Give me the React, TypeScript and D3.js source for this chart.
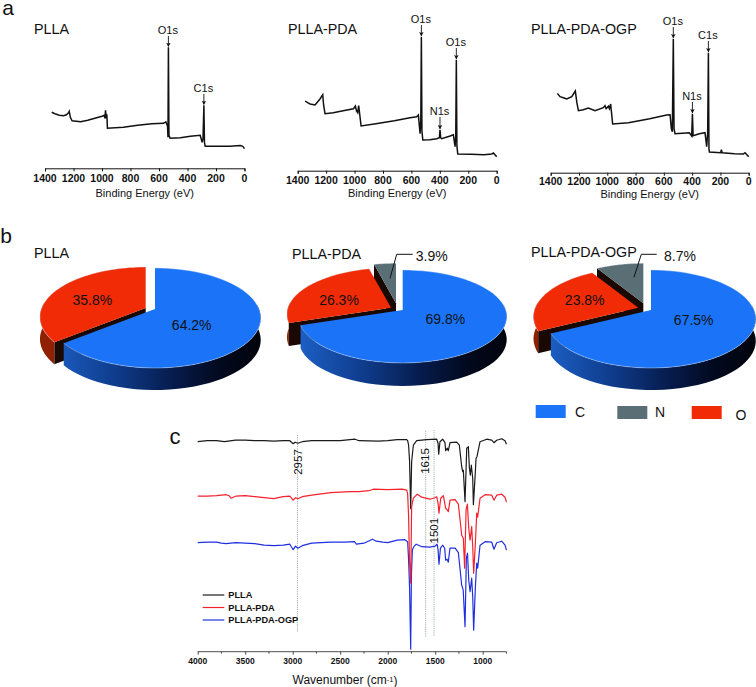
import { useEffect, useRef } from 'react';
import * as d3 from 'd3';

type Pt = [number, number];

// XPS survey traces: [binding energy (eV), height above axis (px-like counts)]
const xpsPlla: Pt[] = [
  [1353, 56], [1330, 54.5], [1300, 53], [1270, 52.5], [1250, 53.5], [1235, 55.5], [1230, 57], [1222, 51], [1210, 47.5],
  [1150, 46.5], [1100, 48], [1050, 50], [1000, 52], [985, 53], [980, 50], [975, 58], [970, 50], [966, 54], [962, 40],
  [850, 41], [750, 43], [650, 44.5], [569, 45], [552, 46.5], [540, 42], [537, 31], [534, 121], [530, 33], [522, 30],
  [450, 30.5], [380, 32], [311, 33], [297, 26], [291, 30], [285, 63], [281, 26], [276, 22], [200, 22], [100, 22], [30, 22.7], [12, 22], [0, 19.7]
];
const xpsPda: Pt[] = [
  [1348, 69.7], [1330, 68], [1313, 66.7], [1278, 65.7], [1243, 71.7], [1224, 76], [1218, 66], [1208, 57], [1150, 58], [1080, 60],
  [1008, 62], [994, 64.7], [987, 60], [978, 58], [971, 65], [954, 44.7], [850, 47], [720, 50], [610, 53], [563, 54], [551, 55.7],
  [539, 37], [534, 50], [530, 134], [526, 40], [520, 30.7], [470, 31], [422, 32], [403, 33], [399, 41], [394, 33], [387, 32],
  [328, 34.7], [305, 36], [293, 24], [288, 35], [284, 111], [280, 25], [274, 16.7], [180, 16.5], [90, 16], [35, 16.7], [23, 17.7], [0, 14]
];
const xpsOgp: Pt[] = [
  [1353, 79.3], [1334, 76], [1310, 75], [1287, 73.7], [1251, 76], [1226, 81.7], [1215, 70], [1204, 62], [1170, 63], [1134, 64.7],
  [1087, 62], [1028, 65], [1016, 67], [1008, 64], [992, 66.5], [985, 64], [976, 68.7], [962, 48.7], [850, 50], [700, 54], [580, 57.7],
  [556, 58], [547, 44], [540, 41], [533, 134], [528, 44], [521, 39], [470, 39.5], [420, 40], [403, 36.7], [398, 59], [393, 37],
  [350, 39], [309, 40], [297, 26], [290, 40], [285, 120], [281, 24], [278, 20.7], [198, 20], [193, 23], [188, 20], [100, 19], [38, 18.7], [26, 20], [0, 16]
];

// FTIR traces: [wavenumber (cm-1), height above axis (px-like %T)]
const ftirPlla: Pt[] = [
  [4000, 210], [3900, 211], [3800, 211], [3720, 210], [3600, 211.5], [3500, 211.5], [3400, 211], [3300, 211], [3200, 210.5], [3100, 211], [3030, 211],
  [2995, 208], [2975, 209.5], [2945, 208.5], [2900, 210], [2800, 211], [2600, 211], [2500, 211], [2345, 212.5], [2300, 211], [2100, 210.5], [2000, 211],
  [1900, 212], [1800, 212], [1790, 211], [1780, 206.5], [1770, 191], [1758, 143], [1748, 190], [1730, 206.5], [1695, 211], [1590, 212], [1484, 212.5],
  [1470, 208.5], [1463, 197.5], [1450, 210], [1422, 212.5], [1397, 209], [1390, 201], [1372, 203.5], [1362, 201], [1344, 209], [1274, 209.5], [1246, 206.5],
  [1221, 185], [1211, 180], [1204, 181.5], [1186, 150], [1168, 203.5], [1151, 205], [1140, 183.5], [1130, 176.5], [1120, 186.5], [1105, 173.5], [1098, 147],
  [1081, 173.5], [1070, 193.5], [1060, 195], [1053, 198.5], [1028, 210], [958, 212.5], [905, 211.5], [881, 209], [853, 211.5], [800, 213], [765, 211], [750, 207.5]
];
const ftirPda: Pt[] = [
  [4000, 155.5], [3900, 155.5], [3800, 156], [3700, 157], [3670, 156], [3650, 153.5], [3600, 155.5], [3500, 156], [3400, 155], [3300, 154], [3200, 153], [3100, 155], [3030, 155.5],
  [2995, 151.5], [2970, 154], [2945, 153], [2900, 155], [2800, 156.5], [2600, 159], [2500, 159.5], [2400, 160], [2300, 160], [2200, 161], [2150, 162.5], [2000, 162], [1850, 162.5],
  [1800, 161.5], [1790, 158], [1780, 135], [1770, 90], [1758, 68.5], [1748, 145], [1730, 153.5], [1688, 157.5], [1642, 154.5], [1555, 152.5], [1502, 154], [1484, 155], [1470, 148.5],
  [1460, 138.5], [1442, 153.5], [1414, 156], [1390, 143.5], [1379, 142.5], [1362, 140], [1344, 151.5], [1291, 152], [1256, 147.5], [1221, 116.5], [1204, 113.5], [1190, 83.5],
  [1175, 142], [1161, 147.5], [1147, 123.5], [1133, 111.5], [1116, 125], [1105, 105], [1095, 78.5], [1077, 108.5], [1063, 138.5], [1053, 134.5], [1028, 153.5], [975, 157], [905, 156.5],
  [881, 151.5], [853, 156.5], [800, 157.5], [765, 154.5], [750, 149.5]
];
const ftirOgp: Pt[] = [
  [4000, 109], [3900, 109.5], [3800, 109.5], [3750, 108.5], [3700, 108], [3600, 109], [3500, 108.5], [3400, 108], [3300, 106.5], [3200, 106], [3100, 106.5], [3030, 107.5],
  [2995, 102], [2970, 105.5], [2945, 103.5], [2900, 106], [2800, 108.5], [2600, 109.5], [2450, 109.5], [2350, 110], [2330, 107.5], [2250, 108.5], [2160, 112.5], [2120, 110.5],
  [2050, 109.5], [2000, 109], [1900, 111.5], [1820, 112], [1790, 110], [1780, 92], [1770, 65], [1758, 2.5], [1750, 78], [1740, 102], [1725, 105], [1700, 107.5], [1640, 105],
  [1560, 104.5], [1500, 105.5], [1480, 107.5], [1470, 102], [1460, 87.5], [1445, 103.5], [1420, 106.5], [1400, 103.5], [1390, 91.5], [1375, 92.5], [1362, 89.5], [1345, 103.5],
  [1290, 103.5], [1256, 99], [1221, 66.5], [1205, 61.5], [1186, 25], [1172, 93.5], [1160, 98.5], [1147, 71.5], [1133, 60], [1116, 73.5], [1105, 55], [1095, 21.5], [1077, 65],
  [1063, 88.5], [1053, 83.5], [1028, 106.5], [975, 110], [905, 109.5], [881, 102.5], [853, 109], [800, 110.5], [765, 106.5], [750, 101.5]
];

const xpsTicks = [1400, 1200, 1000, 800, 600, 400, 200, 0];
const ftirTicks = [4000, 3500, 3000, 2500, 2000, 1500, 1000];
const ftirMinorTicks = [3750, 3250, 2750, 2250, 1750, 1250, 750];
const ftirMarkers = [2950, 1600, 1512];
const ftirMarkerLabels = ['2957', '1615', '1501'];
const ftirNames = ['PLLA', 'PLLA-PDA', 'PLLA-PDA-OGP'];
const ftirColors = ['#1a1a1a', '#f5222d', '#1f2fe0'];

const elements = ['C', 'N', 'O'];
const elementColors: Record<string, string> = { C: '#1b74f8', N: '#5a6f75', O: '#f02b05' };
const wallColors: Record<string, string> = { N: '#2f3b3f', O: '#8f2000' };
const pieNames = ['PLLA', 'PLLA-PDA', 'PLLA-PDA-OGP'];
// clockwise from the top, same order in every pie
const pieOrder = ['C', 'O', 'N'];
const pieValues = [
  [64.2, 35.8, 0],
  [69.8, 26.3, 3.9],
  [67.5, 23.8, 8.7]
];

const SANS = '"Liberation Sans", Arial, sans-serif';

interface XpsPanel {
  title: string;
  data: Pt[];
  left: number;
  right: number;
  axisY: number;
  titleX: number;
  tickLabelY: number;
  labelY: number;
  peaks: { text: string; be: number; top: number }[];
}

const xpsPanels: XpsPanel[] = [
  { title: 'PLLA', data: xpsPlla, left: 45, right: 244.5, axisY: 168.3, titleX: 34, tickLabelY: 178.5, labelY: 193,
    peaks: [{ text: 'O1s', be: 534, top: 30 }, { text: 'C1s', be: 285, top: 88 }] },
  { title: 'PLLA-PDA', data: xpsPda, left: 297.7, right: 496.7, axisY: 170.7, titleX: 288, tickLabelY: 180.5, labelY: 193,
    peaks: [{ text: 'O1s', be: 530, top: 19 }, { text: 'O1s', be: 284, top: 42 }, { text: 'N1s', be: 399, top: 111 }] },
  { title: 'PLLA-PDA-OGP', data: xpsOgp, left: 550.7, right: 748.7, axisY: 172.7, titleX: 531, tickLabelY: 181.5, labelY: 194,
    peaks: [{ text: 'O1s', be: 533, top: 21 }, { text: 'C1s', be: 285, top: 35 }, { text: 'N1s', be: 398, top: 96 }] }
];

interface PieGeom {
  near: number; // rim distance below apex
  far: number; // rim distance above apex
  radius: number;
  depth: number;
  apex: Record<string, Pt>;
  labels: Pt[];
  titleX: number;
  titleY: number;
  callout?: Pt[];
}

const pieGeoms: PieGeom[] = [
  { near: 59, far: 41, radius: 104, depth: 22, apex: { C: [155, 309], O: [145.7, 308], N: [150, 303] },
    labels: [[191.7, 325], [92.3, 300]], titleX: 34, titleY: 253 },
  { near: 53, far: 40, radius: 103, depth: 23, apex: { C: [402.7, 310], O: [391, 307.7], N: [396, 303.3] },
    labels: [[445.3, 319], [339, 300], [431.7, 256]], titleX: 292, titleY: 254,
    callout: [[390, 278.3], [396.7, 254.3], [412.7, 254.3]] },
  { near: 58, far: 40, radius: 103, depth: 22, apex: { C: [651, 310], O: [638.3, 307.7], N: [643.3, 303.3] },
    labels: [[693.7, 320], [584.7, 300], [680, 256]], titleX: 531, titleY: 252,
    callout: [[634, 277.3], [641.3, 254.3], [656.7, 254.3]] }
];

const legendX = [535.7, 617.3, 691.7];
const legendTextX = [580, 660, 741];
const legendTextY = [412, 412, 415];
const legendRectY = [405, 406, 406];

const App = (): JSX.Element => {
  const svgRef = useRef<SVGSVGElement>(null);

  useEffect(() => {
    if (svgRef.current) {
      svgRef.current.innerHTML = '';
    }
    const svg = d3.select(svgRef.current).attr('width', 756).attr('height', 687).attr('viewBox', [0, 0, 756, 687]);
    const defs = svg.append('defs');
    svg.append('rect').attr('width', 756).attr('height', 687).attr('fill', '#fff');

    const text = (x: number, y: number, s: string, size: number, anchor = 'middle', weight = 'normal') =>
      svg
        .append('text')
        .attr('x', x)
        .attr('y', y)
        .attr('dy', '0.35em')
        .attr('text-anchor', anchor)
        .attr('font-family', SANS)
        .attr('font-size', size)
        .attr('font-weight', weight)
        .attr('fill', '#111')
        .text(s);

    text(8, 8, 'a', 21);
    text(6, 236, 'b', 21);
    text(175, 436, 'c', 22);

    const arrowHead = defs
      .append('marker')
      .attr('id', 'head')
      .attr('viewBox', '0 0 6 6')
      .attr('refX', 5)
      .attr('refY', 3)
      .attr('markerWidth', 5)
      .attr('markerHeight', 5)
      .attr('orient', 'auto');
    arrowHead.append('path').attr('d', 'M0,0L6,3L0,6L1.5,3Z').attr('fill', '#111');

    // panel a: XPS surveys
    xpsPanels.forEach((p) => {
      const x = d3.scaleLinear([1400, 0], [p.left, p.right]);
      const y = d3.scaleLinear([0, 150], [p.axisY, p.axisY - 150]);
      const g = svg.append('g');
      const line = d3
        .line<Pt>()
        .x((d) => x(d[0]))
        .y((d) => y(d[1]));
      g.append('path').attr('d', line(p.data)).attr('fill', 'none').attr('stroke', '#111').attr('stroke-width', 1.5);

      const axis = d3.axisBottom(x).tickValues(xpsTicks).tickSize(3).tickFormat(() => '');
      const ax = g.append('g').attr('transform', `translate(0,${p.axisY})`).call(axis);
      ax.selectAll('path,line').attr('stroke', '#111').attr('stroke-width', 1);
      xpsTicks.forEach((t) => text(x(t), p.tickLabelY, String(t), 10.5, 'middle', 'bold'));
      text((p.left + p.right) / 2, p.labelY, 'Binding Energy (eV)', 11);
      text(p.titleX, 29, p.title, 14.3, 'start');

      p.peaks.forEach((pk) => {
        const px = x(pk.be);
        const peakTop = d3.max(p.data.filter((d) => d[0] === pk.be), (d) => y(d[1])) as number;
        text(px - 0.5, pk.top, pk.text, 11);
        g.append('line')
          .attr('x1', px)
          .attr('x2', px)
          .attr('y1', pk.top + 6)
          .attr('y2', peakTop - 1)
          .attr('stroke', '#111')
          .attr('stroke-width', 0.9)
          .attr('marker-end', 'url(#head)');
      });
    });

    // panel b: perspective pies, a circle through a homography so the apex sits above the ellipse centre
    const pie = d3
      .pie<number>()
      .sort(null)
      .value((d) => d);

    pieGeoms.forEach((geom, i) => {
      const H = (2 * geom.near * geom.far) / (geom.near + geom.far);
      const k = (geom.near - geom.far) / (geom.near + geom.far);
      const project = (apex: Pt, a: number): Pt => {
        const u = Math.sin(a);
        const v = Math.cos(a);
        const w = 1 + k * v;
        return [apex[0] + (geom.radius * u) / w, apex[1] - (H * v) / w];
      };
      const lineGen = d3
        .line<Pt>()
        .x((d) => d[0])
        .y((d) => d[1]);
      const slices = pie(pieValues[i]);

      const gradId = `wall${i}`;
      const apexC = geom.apex.C;
      const grad = defs
        .append('linearGradient')
        .attr('id', gradId)
        .attr('gradientUnits', 'userSpaceOnUse')
        .attr('x1', apexC[0] - geom.radius)
        .attr('x2', apexC[0] + geom.radius)
        .attr('y1', 0)
        .attr('y2', 0);
      [['0', '#1c5fc4'], ['0.3', '#0f3d8e'], ['0.6', '#061a4a'], ['0.8', '#020a20'], ['1', '#02040c']].forEach(([o, c]) =>
        grad.append('stop').attr('offset', o).attr('stop-color', c)
      );

      // back to front: N, O, C
      [2, 1, 0].forEach((idx) => {
        const s = slices[idx];
        if (s.value <= 0) return;
        const name = pieOrder[idx];
        const apex = geom.apex[name];
        const angles = d3.range(0, 61).map((j) => s.startAngle + ((s.endAngle - s.startAngle) * j) / 60);
        const rim = angles.map((a) => project(apex, a));
        const down = (p: Pt): Pt => [p[0], p[1] + geom.depth];

        // outer wall (front half of the rim only)
        const front = rim.filter((_, j) => Math.cos(angles[j]) < 0.12);
        if (front.length > 1) {
          svg
            .append('path')
            .attr('d', lineGen([...front, ...front.map(down).reverse()]) + 'Z')
            .attr('fill', name === 'C' ? `url(#${gradId})` : wallColors[name]);
        }
        // the cut face looking at the viewer, on the slice's counter-clockwise side
        if (name !== 'C') {
          const tip = rim[0];
          svg
            .append('path')
            .attr('d', lineGen([apex, tip, down(tip), down(apex)]) + 'Z')
            .attr('fill', '#1a0802');
        }
        // top face
        svg
          .append('path')
          .attr('d', lineGen([apex, ...rim]) + 'Z')
          .attr('fill', elementColors[name]);
        svg
          .append('path')
          .attr('d', lineGen(rim))
          .attr('fill', 'none')
          .attr('stroke', '#dfe8f5')
          .attr('stroke-opacity', 0.65)
          .attr('stroke-width', 0.6);
      });

      text(geom.titleX, geom.titleY, pieNames[i], 14.3, 'start');
      geom.labels.forEach((l, j) => text(l[0], l[1], `${pieValues[i][j].toFixed(1)}%`, 14));
      if (geom.callout) {
        svg
          .append('path')
          .attr('d', lineGen(geom.callout))
          .attr('fill', 'none')
          .attr('stroke', '#111')
          .attr('stroke-width', 1);
      }
    });

    elements.forEach((el, i) => {
      svg
        .append('rect')
        .attr('x', legendX[i])
        .attr('y', legendRectY[i])
        .attr('width', 30)
        .attr('height', 13)
        .attr('fill', elementColors[el]);
      text(legendTextX[i], legendTextY[i], el, 14);
    });

    // panel c: FTIR
    const fx = d3.scaleLinear([4000, 1000], [197.7, 482.7]);
    const axisC = 651.7;
    const fy = d3.scaleLinear([0, 250], [axisC, axisC - 250]);
    const fline = d3
      .line<Pt>()
      .x((d) => fx(d[0]))
      .y((d) => fy(d[1]));

    const markerTops = [435, 430.7, 430];
    const markerBottoms = [631.7, 637.3, 636.7];
    ftirMarkers.forEach((m, i) => {
      svg
        .append('line')
        .attr('x1', fx(m))
        .attr('x2', fx(m))
        .attr('y1', markerTops[i])
        .attr('y2', markerBottoms[i])
        .attr('stroke', '#8a9a9a')
        .attr('stroke-width', 0.8)
        .attr('stroke-dasharray', '1.2 1');
    });

    [ftirPlla, ftirOgp, ftirPda].forEach((d, i) => {
      const colour = [ftirColors[0], ftirColors[2], ftirColors[1]][i];
      svg
        .append('path')
        .attr('d', fline(d))
        .attr('fill', 'none')
        .attr('stroke', colour)
        .attr('stroke-width', 1.2)
        .attr('stroke-linejoin', 'round');
    });

    const axC = svg
      .append('g')
      .attr('transform', `translate(0,${axisC})`)
      .call(d3.axisBottom(fx).tickValues(ftirTicks).tickSize(3).tickFormat(() => ''));
    axC.select('.domain').attr('d', `M${fx(4000)},0H${fx(750)}`);
    axC.selectAll('path,line').attr('stroke', '#222').attr('stroke-width', 0.8);
    ftirMinorTicks.forEach((t) =>
      axC.append('line').attr('x1', fx(t)).attr('x2', fx(t)).attr('y1', 0).attr('y2', 2).attr('stroke', '#222').attr('stroke-width', 0.8)
    );
    ftirTicks.forEach((t) => text(fx(t), 661.5, String(t), 8.5, 'middle', 'bold'));

    const wn = text(345, 680, 'Wavenumber (cm', 12);
    wn.append('tspan').attr('font-size', 7.5).attr('dy', '-0.25em').text('-1');
    wn.append('tspan').attr('dy', '0.2em').text(')');

    const markerLabelPos: Pt[] = [[298, 462], [425, 461], [434.3, 530.7]];
    ftirMarkerLabels.forEach((s, i) => {
      text(markerLabelPos[i][0], markerLabelPos[i][1], s, 11.5).attr(
        'transform',
        `rotate(-90 ${markerLabelPos[i][0]} ${markerLabelPos[i][1]})`
      );
    });

    const legendY = d3.scalePoint<string>().domain(ftirNames).range([595, 620]);
    ftirNames.forEach((n, i) => {
      const ly = legendY(n) as number;
      svg
        .append('line')
        .attr('x1', 202.7)
        .attr('x2', 224.3)
        .attr('y1', ly)
        .attr('y2', ly)
        .attr('stroke', ftirColors[i])
        .attr('stroke-width', 1.2);
      text(228.3, ly, n, 9.2, 'start', 'bold');
    });
  }, []);

  return <svg ref={svgRef} style={{ position: 'absolute', top: 0, left: 0 }} />;
};

export default App;
